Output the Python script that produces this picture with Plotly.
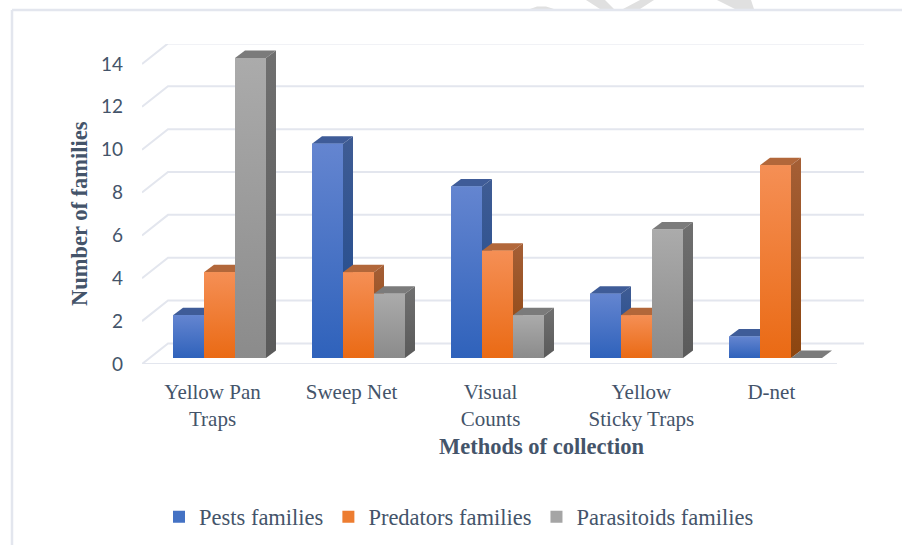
import plotly.graph_objects as go

# ---- data ----
categories = ["Yellow Pan<br>Traps", "Sweep Net", "Visual<br>Counts", "Yellow<br>Sticky Traps", "D-net"]
label_shift = [-0.05, -0.05, -0.05, 0.035, -0.03]
pests = [2, 10, 8, 3, 1]
predators = [4, 4, 5, 2, 9]
parasitoids = [14, 3, 2, 6, 0]
y_ticks = [0, 2, 4, 6, 8, 10, 12, 14]

series_names = ["Pests families", "Predators families", "Parasitoids families"]
series_values = [pests, predators, parasitoids]
front_top = ["#6485d0", "#f58f55", "#ababab"]
front_bot = ["#2f62bb", "#ea6a14", "#8b8b8b"]
front_mid = ["#4472c4", "#ed7d31", "#a5a5a5"]
side_top = ["#3f5c94", "#a55f36", "#707070"]
side_bot = ["#1f4a8e", "#8c450f", "#5a5a5a"]
cap_col = ["#3f5c98", "#b2673a", "#7b7b7b"]

W, H = 902, 545
L, R, T, B = 142, 864, 44, 364
unit_x, unit_y = 139.0, 21.43
BAR_GAP = 0.331
bar_w = (1 - BAR_GAP) / 3
dx, dy = 10 / unit_x, 7.5 / unit_y
x_rng = [-77.5 / unit_x, -77.5 / unit_x + (R - L) / unit_x]
y_rng = [-(B - 358) / unit_y, (358 - T) / unit_y]
front_off = y_rng[0]
back_off = 0.68
back_x = (168 - L) / unit_x + x_rng[0]
front_end_x = (837 - L) / unit_x + x_rng[0]

INK = "#44546a"
GRID = "#e3e6ee"
SERIF = "Liberation Serif"

fig = go.Figure()

# grid: back wall, left wall diagonals, floor front edge
gx, gy = [], []
for v in y_ticks:
    gx += [x_rng[0], back_x, x_rng[1], None]
    gy += [v + front_off, v + back_off, v + back_off, None]
gx += [x_rng[0], front_end_x]
gy += [front_off, front_off]
fig.add_trace(go.Scatter(x=gx, y=gy, mode="lines", line=dict(color=GRID, width=2),
                         showlegend=False, hoverinfo="skip", zorder=0, cliponaxis=False))


def poly(xs, ys, color=None, grad=None, z=1):
    kw = dict(fillcolor=color) if color else dict(
        fillgradient=dict(type="vertical", colorscale=[[0, grad[0]], [1, grad[1]]]))
    fig.add_trace(go.Scatter(x=xs, y=ys, mode="lines", fill="toself", line=dict(width=0),
                             showlegend=False, hoverinfo="skip", zorder=z, **kw))


for k, (name, vals) in enumerate(zip(series_names, series_values)):
    base_z = 3 * k + 1
    fig.add_trace(go.Bar(x=list(range(len(vals))), y=vals, name=name,
                         marker=dict(color=front_mid[k], line=dict(width=0)),
                         zorder=base_z + 1, hoverinfo="skip"))
    for i, v in enumerate(vals):
        x0 = i + (k - 1.5) * bar_w
        x1 = x0 + bar_w
        # top cap
        poly([x0, x1, x1 + dx, x0 + dx, x0], [v, v, v + dy, v + dy, v], color=cap_col[k], z=base_z)
        if v > 0:
            # right side face
            poly([x1, x1 + dx, x1 + dx, x1, x1], [0, dy, v + dy, v, 0],
                 grad=(side_bot[k], side_top[k]), z=base_z)
            # shaded front face
            poly([x0, x1, x1, x0, x0], [0, 0, v, v, 0],
                 grad=(front_bot[k], front_top[k]), z=base_z + 2)


def px(x):
    return (x - L) / (R - L)


def py(y):
    return (B - y) / (B - T)


def path(points):
    return "M" + " L".join(f"{px(a):.4f},{py(b):.4f}" for a, b in points) + " Z"


shapes = []
# watermark fragments cut by the top of the frame
for pts in [
    [(530, 9), (537, 6.5), (546, 6.5), (554, 9)],
    [(586, 0), (605, 0), (614, 9), (600, 9)],
    [(640, 0), (654, 0), (640, 9), (623, 9)],
    [(717, 0), (751, 0), (754, 9), (735, 9)],
]:
    shapes.append(dict(type="path", xref="paper", yref="paper", path=path(pts),
                       fillcolor="#e0e0e0", line=dict(width=0), layer="below"))
# page frame
shapes.append(dict(type="line", xref="paper", yref="paper", x0=px(12), x1=px(12), y0=py(10), y1=py(545),
                   line=dict(color=GRID, width=2.5), layer="below"))
shapes.append(dict(type="line", xref="paper", yref="paper", x0=px(12), x1=px(902), y0=py(10), y1=py(10),
                   line=dict(color=GRID, width=2.5), layer="below"))

annotations = [
    dict(text="<b>Methods of collection</b>", xref="paper", yref="paper", x=px(541), y=py(446),
         xanchor="center", yanchor="middle", showarrow=False,
         font=dict(family=SERIF, size=22.5, color=INK)),
    dict(text="<b>Number of families</b>", xref="paper", yref="paper", x=px(79), y=py(214),
         xanchor="center", yanchor="middle", showarrow=False, textangle=-90,
         font=dict(family=SERIF, size=22.5, color=INK)),
]

fig.update_layout(
    width=W, height=H,
    autosize=False,
    margin=dict(l=L, r=W - R, t=T, b=H - B, pad=0, autoexpand=False),
    paper_bgcolor="white", plot_bgcolor="rgba(0,0,0,0)",
    barmode="group", bargap=BAR_GAP, bargroupgap=0,
    shapes=shapes,
    annotations=annotations,
    xaxis=dict(range=x_rng, tickmode="array",
               tickvals=[i + s for i, s in enumerate(label_shift)], ticktext=categories,
               showgrid=False, zeroline=False, showline=False, ticks="", ticklabelstandoff=13,
               tickfont=dict(family=SERIF, size=21, color=INK)),
    yaxis=dict(range=y_rng, tickmode="array",
               tickvals=[v + front_off for v in y_ticks], ticktext=[str(v) for v in y_ticks],
               showgrid=False, zeroline=False, showline=False, ticks="", ticklabelstandoff=18,
               tickfont=dict(family="Lato", size=19, color=INK)),
    legend=dict(orientation="h", x=px(159), xanchor="left", y=py(517), yanchor="middle",
                font=dict(family=SERIF, size=22.5, color=INK), bgcolor="rgba(0,0,0,0)",
                traceorder="normal"),
    showlegend=True,
)

fig.write_html("out.html", config=dict(displayModeBar=False),
               post_script="document.body.style.margin='0';")
